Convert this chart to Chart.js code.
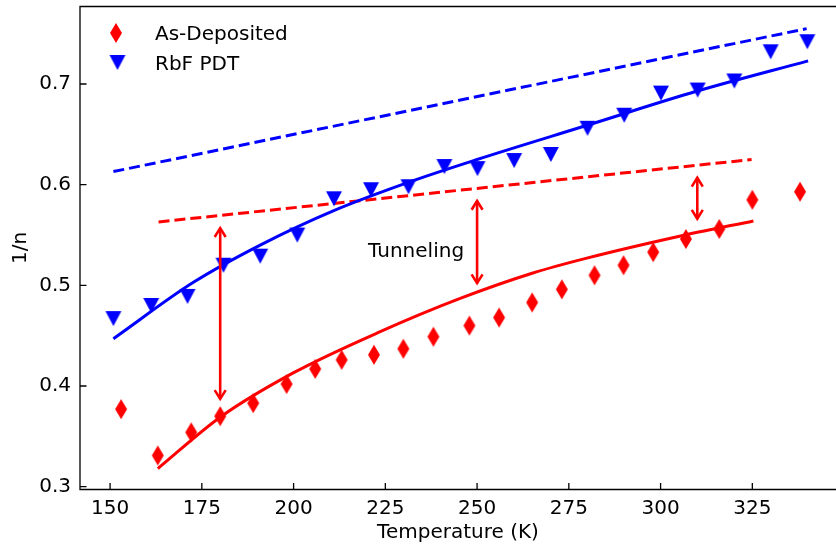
<!DOCTYPE html>
<html>
<head>
<meta charset="utf-8">
<title>1/n vs Temperature</title>
<script src="https://cdn.jsdelivr.net/npm/chart.js@4.4.1/dist/chart.umd.min.js"></script>
<style>
  html, body { margin: 0; padding: 0; background: #fff; }
  canvas { display: block; }
</style>
</head>
<body>
<canvas id="nChart" width="836" height="546"></canvas>
<script>
//---------------------------------------------------
// Data
//---------------------------------------------------

// As-Deposited (red diamonds)
const asDepTemp = [153.0, 163.0, 172.1, 180.0, 189.0, 198.1, 205.9, 213.1, 221.9, 229.9, 238.1,
                   247.9, 256.0, 265.0, 273.1, 282.0, 289.9, 298.0, 306.9, 316.0, 325.0, 338.0];
const asDepN = [0.377, 0.331, 0.354, 0.370, 0.383, 0.402, 0.417, 0.426, 0.431, 0.437, 0.449,
                0.460, 0.468, 0.483, 0.496, 0.510, 0.520, 0.533, 0.546, 0.556, 0.585, 0.593];

// RbF PDT (blue triangles)
const rbfTemp = [150.9, 161.2, 171.1, 180.9, 190.9, 201.0, 211.0, 221.1, 231.3, 241.1,
                 250.1, 260.1, 270.1, 280.1, 290.1, 300.1, 310.1, 320.1, 330.0, 340.0];
const rbfN = [0.467, 0.480, 0.489, 0.520, 0.529, 0.550, 0.586, 0.595, 0.598, 0.618,
              0.616, 0.624, 0.630, 0.656, 0.669, 0.691, 0.694, 0.703, 0.732, 0.742];

// solid fit curves
const asDepFitTemp = [163.0, 180.0, 199.9, 223.6, 245.4, 265.0, 279.9, 306.7, 325.3];
const asDepFitN = [0.318, 0.369, 0.413, 0.454, 0.487, 0.512, 0.527, 0.550, 0.564];
const rbfFitTemp = [150.9, 172.7, 190.9, 210.8, 232.6, 250.0, 280.0, 310.0, 340.2];
const rbfFitN = [0.447, 0.503, 0.540, 0.574, 0.604, 0.625, 0.659, 0.693, 0.723];

// dashed lines
const asDepDashTemp = [163.2, 324.8];
const asDepDashN = [0.563, 0.625];
const rbfDashTemp = [150.9, 339.8];
const rbfDashN = [0.613, 0.755];

// double arrows
const arrowTemp = [180, 250, 310];
const arrowLow = [0.386, 0.501, 0.565];
const arrowHigh = [0.558, 0.585, 0.608];

const seriesLabels = ["As-Deposited", "RbF PDT"];
const noteText = "Tunneling";
const noteTemp = 220.3;
const noteN = 0.5285;

const xTicks = [150, 175, 200, 225, 250, 275, 300, 325];
const xTickLabels = ["150", "175", "200", "225", "250", "275", "300", "325"];
const yTicks = [0.3, 0.4, 0.5, 0.6, 0.7];
const yTickLabels = ["0.3", "0.4", "0.5", "0.6", "0.7"];

//---------------------------------------------------
// Helpers
//---------------------------------------------------

const RED = "#ff0000";
const BLUE = "#0000ff";
const FONT = "DejaVu Sans";
const FONT_SIZE = 20;

function toXY(xs, ys) {
  return xs.map((x, i) => ({ x: x, y: ys[i] }));
}

function makeDiamond(w, h, color) {
  const c = document.createElement("canvas");
  c.width = w + 2;
  c.height = h + 2;
  const g = c.getContext("2d");
  g.fillStyle = color;
  g.beginPath();
  g.moveTo(c.width / 2, 1);
  g.lineTo(c.width - 1, c.height / 2);
  g.lineTo(c.width / 2, c.height - 1);
  g.lineTo(1, c.height / 2);
  g.closePath();
  g.fill();
  return c;
}

function makeTriangleDown(w, h, color) {
  const c = document.createElement("canvas");
  c.width = w + 2;
  c.height = h + 2;
  const g = c.getContext("2d");
  g.fillStyle = color;
  g.beginPath();
  g.moveTo(1, 1);
  g.lineTo(c.width - 1, 1);
  g.lineTo(c.width / 2, c.height - 1);
  g.closePath();
  g.fill();
  return c;
}

const diamond = makeDiamond(12, 20, RED);
const triangle = makeTriangleDown(16, 15, BLUE);

// keep the plot box where matplotlib put it
function noPad(s) {
  s.paddingTop = 0;
  s.paddingBottom = 0;
  s.paddingLeft = 0;
  s.paddingRight = 0;
}

//---------------------------------------------------
// Plugins: matplotlib-like frame, legend, arrows, note
//---------------------------------------------------

const framePlugin = {
  id: "frame",
  afterDatasetsDraw(chart) {
    const ctx = chart.ctx;
    const a = chart.chartArea;
    const xs = chart.scales.x;
    const ys = chart.scales.y;
    const font = FONT_SIZE + "px '" + FONT + "'";

    // arrows
    ctx.save();
    ctx.strokeStyle = RED;
    ctx.lineWidth = 2.6;
    ctx.lineCap = "butt";
    arrowTemp.forEach((t, i) => {
      const px = xs.getPixelForValue(t);
      const top = ys.getPixelForValue(arrowHigh[i]);
      const bot = ys.getPixelForValue(arrowLow[i]);
      ctx.beginPath();
      ctx.moveTo(px, top + 1);
      ctx.lineTo(px, bot - 1);
      ctx.stroke();
      ctx.beginPath();
      ctx.moveTo(px - 5.5, top + 10);
      ctx.lineTo(px, top + 1.2);
      ctx.lineTo(px + 5.5, top + 10);
      ctx.moveTo(px - 5.5, bot - 10);
      ctx.lineTo(px, bot - 1.2);
      ctx.lineTo(px + 5.5, bot - 10);
      ctx.stroke();
    });
    ctx.restore();

    // note text
    ctx.save();
    ctx.fillStyle = "#000";
    ctx.font = font;
    ctx.textAlign = "left";
    ctx.textBaseline = "alphabetic";
    ctx.fillText(noteText, xs.getPixelForValue(noteTemp), ys.getPixelForValue(noteN));
    ctx.restore();

    // spines (right one falls off the canvas)
    ctx.save();
    ctx.strokeStyle = "#000";
    ctx.lineWidth = 1.3;
    ctx.beginPath();
    ctx.moveTo(chart.width, a.top);
    ctx.lineTo(a.left, a.top);
    ctx.lineTo(a.left, a.bottom);
    ctx.lineTo(chart.width, a.bottom);
    ctx.stroke();

    // inward ticks
    ctx.beginPath();
    xs.ticks.forEach((t) => {
      const px = xs.getPixelForValue(t.value);
      ctx.moveTo(px, a.bottom);
      ctx.lineTo(px, a.bottom - 6.5);
    });
    ys.ticks.forEach((t) => {
      const py = ys.getPixelForValue(t.value);
      ctx.moveTo(a.left, py);
      ctx.lineTo(a.left + 6.5, py);
    });
    ctx.stroke();
    ctx.restore();

    // legend (top left, no frame)
    ctx.save();
    ctx.drawImage(diamond, 116 - diamond.width / 2, 33 - diamond.height / 2);
    ctx.drawImage(triangle, 117.5 - triangle.width / 2, 62.5 - triangle.height / 2);
    ctx.fillStyle = "#000";
    ctx.font = font;
    ctx.textAlign = "left";
    ctx.textBaseline = "alphabetic";
    ctx.fillText(seriesLabels[0], 155, 40);
    ctx.fillText(seriesLabels[1], 155, 69.5);
    ctx.restore();
  },
};

//---------------------------------------------------
// Chart
//---------------------------------------------------

Chart.defaults.color = "#000";
Chart.defaults.font.family = FONT;
Chart.defaults.font.size = FONT_SIZE;

const ctx = document.getElementById("nChart");

const chart = new Chart(ctx, {
  type: "scatter",
  data: {
    datasets: [
      {
        label: seriesLabels[0],
        data: toXY(asDepTemp, asDepN),
        pointStyle: diamond,
        order: 1,
      },
      {
        label: seriesLabels[1],
        data: toXY(rbfTemp, rbfN),
        pointStyle: triangle,
        order: 1,
      },
      {
        type: "line",
        data: toXY(asDepFitTemp, asDepFitN),
        borderColor: RED,
        borderWidth: 3,
        pointRadius: 0,
        cubicInterpolationMode: "monotone",
        fill: false,
        order: 2,
      },
      {
        type: "line",
        data: toXY(rbfFitTemp, rbfFitN),
        borderColor: BLUE,
        borderWidth: 3,
        pointRadius: 0,
        cubicInterpolationMode: "monotone",
        fill: false,
        order: 2,
      },
      {
        type: "line",
        data: toXY(asDepDashTemp, asDepDashN),
        borderColor: RED,
        borderWidth: 3,
        borderDash: [11, 5],
        pointRadius: 0,
        fill: false,
        order: 2,
      },
      {
        type: "line",
        data: toXY(rbfDashTemp, rbfDashN),
        borderColor: BLUE,
        borderWidth: 3,
        borderDash: [11, 5],
        pointRadius: 0,
        fill: false,
        order: 2,
      },
    ],
  },
  options: {
    responsive: false,
    animation: false,
    devicePixelRatio: 1,
    layout: { autoPadding: false, padding: { top: 6.5, right: 0, left: 0, bottom: 0 } },
    plugins: {
      legend: { display: false },
      tooltip: { enabled: false },
    },
    scales: {
      x: {
        type: "linear",
        min: 141.8,
        max: 347.8,
        grid: { display: false, drawTicks: false },
        border: { display: false },
        ticks: {
          autoSkip: false,
          maxRotation: 0,
          padding: 7,
          callback: (v, i) => xTickLabels[i],
        },
        afterBuildTicks: (s) => { s.ticks = xTicks.map((v) => ({ value: v })); },
        afterFit: (s) => { s.height = 56.5; noPad(s); },
        title: {
          display: true,
          text: "Temperature (K)",
          padding: { top: 0, bottom: 1.2 },
        },
      },
      y: {
        type: "linear",
        min: 0.2972,
        max: 0.777,
        grid: { display: false, drawTicks: false },
        border: { display: false },
        ticks: {
          autoSkip: false,
          padding: 9,
          callback: (v, i) => yTickLabels[i],
        },
        afterBuildTicks: (s) => { s.ticks = yTicks.map((v) => ({ value: v })); },
        afterFit: (s) => { s.width = 80; noPad(s); },
        title: {
          display: true,
          text: "1/n",
          padding: { top: 9, bottom: 0 },
        },
      },
    },
  },
  plugins: [framePlugin],
});
</script>
</body>
</html>
